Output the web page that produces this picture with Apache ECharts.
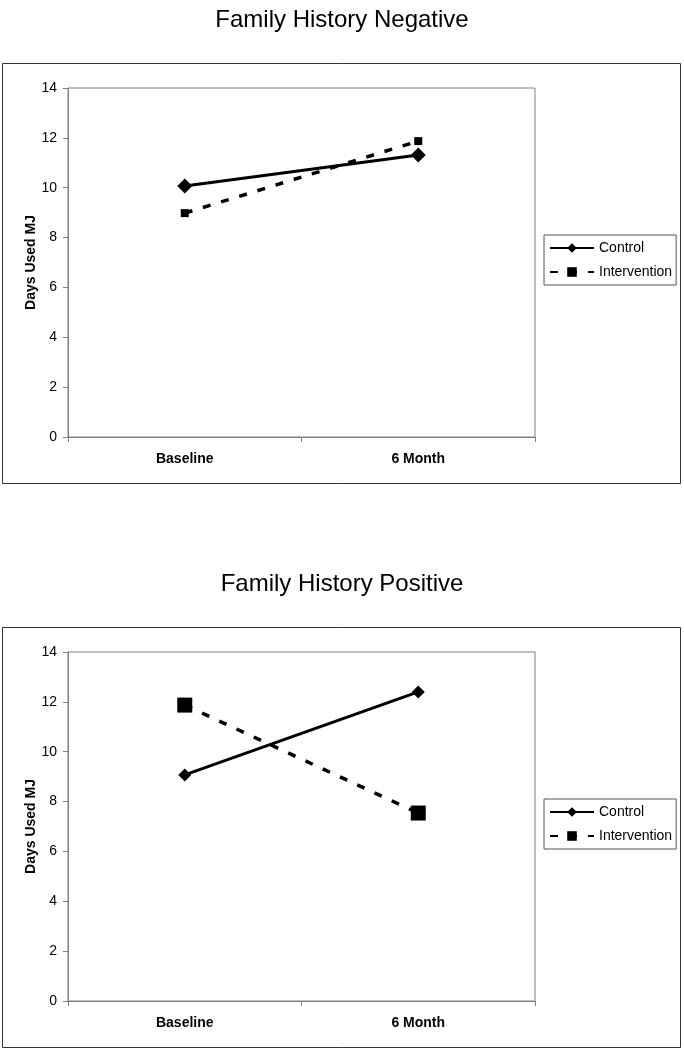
<!DOCTYPE html>
<html>
<head>
<meta charset="utf-8">
<script src="https://cdn.jsdelivr.net/npm/echarts@6/dist/echarts.min.js"></script>
<style>html,body{margin:0;padding:0;background:#fff}#c{width:684px;height:1050px}</style>
</head>
<body>
<div id="c"></div>
<script>
const categories = ['Baseline', '6 Month'];
const titles = ['Family History Negative', 'Family History Positive'];
const yAxisTitle = 'Days Used MJ';
const seriesNames = ['Control', 'Intervention'];
const negControl = [10.07, 11.31];
const negIntervention = [8.98, 11.87];
const posControl = [9.07, 12.40];
const posIntervention = [11.87, 7.54];
const yMin = 0, yMax = 14, yStep = 2;

const FONT = 'Liberation Sans, Arial, sans-serif';
const chart = echarts.init(document.getElementById('c'), null, {renderer: 'canvas'});

const gridTops = [88, 652];
function makeX(i) {
  return {
    gridIndex: i, type: 'category', data: categories, boundaryGap: true,
    axisLine: {lineStyle: {color: '#808080', width: 1}},
    axisTick: {show: true, length: 5, lineStyle: {color: '#808080'}},
    axisLabel: {fontFamily: FONT, fontSize: 14, fontWeight: 'bold', color: '#000', margin: 15}
  };
}
function makeY(i) {
  return {
    gridIndex: i, type: 'value', min: yMin, max: yMax, interval: yStep,
    name: yAxisTitle, nameLocation: 'middle', nameGap: 30, nameMoveOverlap: false,
    nameTextStyle: {fontFamily: FONT, fontSize: 14, fontWeight: 'bold', color: '#000'},
    axisLine: {show: true, lineStyle: {color: '#808080', width: 1}},
    axisTick: {show: true, length: 5, lineStyle: {color: '#808080'}},
    axisLabel: {fontFamily: FONT, fontSize: 14, color: '#000', margin: 11},
    splitLine: {show: false}
  };
}
function solid(name, data, idx, size) {
  return {
    name: name, type: 'line', xAxisIndex: idx, yAxisIndex: idx, data: data,
    symbol: 'diamond', symbolSize: size,
    lineStyle: {color: '#000', width: 3, type: 'solid'},
    itemStyle: {color: '#000'}, z: 3
  };
}
function dashed(name, data, idx, size) {
  return {
    name: name, type: 'line', xAxisIndex: idx, yAxisIndex: idx, data: data,
    symbol: 'rect', symbolSize: size,
    lineStyle: {color: '#000', width: 3.5, type: [8, 11]},
    itemStyle: {color: '#000'}, z: 2
  };
}
function makeLegend(i, names) {
  return {
    orient: 'vertical', left: 544, top: gridTops[i] + 147,
    data: names, selectedMode: false,
    itemWidth: 44, itemHeight: 12, itemGap: 10,
    padding: [6, 4, 6, 5],
    borderColor: '#555', borderWidth: 1,
    textStyle: {fontFamily: FONT, fontSize: 14, color: '#000'},
    formatter: function (n) { return n.trim(); }
  };
}

chart.setOption({
  animation: false,
  backgroundColor: '#fff',
  title: [
    {text: titles[0], left: 'center', top: 3, textStyle: {fontFamily: FONT, fontSize: 24, fontWeight: 'normal', color: '#000'}},
    {text: titles[1], left: 'center', top: 567, textStyle: {fontFamily: FONT, fontSize: 24, fontWeight: 'normal', color: '#000'}}
  ],
  graphic: [
    {type: 'rect', shape: {x: 2.5, y: 63.5, width: 678, height: 420}, style: {fill: 'none', stroke: '#333', lineWidth: 1}, silent: true},
    {type: 'rect', shape: {x: 2.5, y: 627.5, width: 678, height: 420}, style: {fill: 'none', stroke: '#333', lineWidth: 1}, silent: true}
  ],
  grid: [
    {left: 68, top: gridTops[0], width: 467, height: 349, show: true, borderColor: '#808080', borderWidth: 1, containLabel: false},
    {left: 68, top: gridTops[1], width: 467, height: 349, show: true, borderColor: '#808080', borderWidth: 1, containLabel: false}
  ],
  xAxis: [makeX(0), makeX(1)],
  yAxis: [makeY(0), makeY(1)],
  legend: [
    makeLegend(0, [seriesNames[0], seriesNames[1]]),
    makeLegend(1, [seriesNames[0] + ' ', seriesNames[1] + ' '])
  ],
  series: [
    solid(seriesNames[0], negControl, 0, 15),
    dashed(seriesNames[1], negIntervention, 0, 8),
    solid(seriesNames[0] + ' ', posControl, 1, 13),
    dashed(seriesNames[1] + ' ', posIntervention, 1, 15)
  ]
});
</script>
</body>
</html>
